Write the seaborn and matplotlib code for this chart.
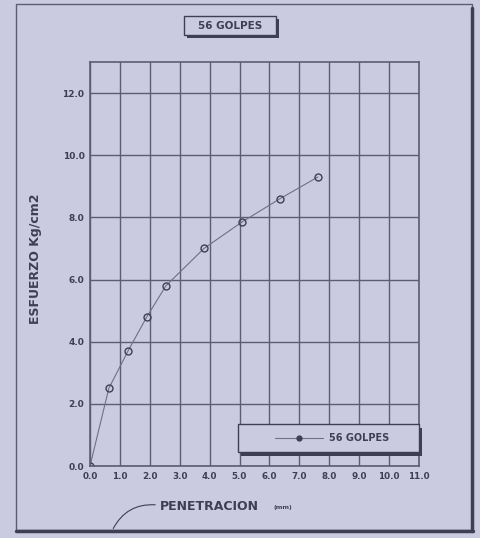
import matplotlib
matplotlib.use("Agg")
import matplotlib.pyplot as plt
import numpy as np
import pandas as pd
import seaborn as sns
from matplotlib.patches import Rectangle, FancyArrowPatch

# CBR test, 56 blows: penetration (mm) vs stress (kg/cm2)
penetracion = [0.0, 0.63, 1.27, 1.90, 2.54, 3.81, 5.08, 6.35, 7.62]
esfuerzo = [0.0, 2.5, 3.7, 4.8, 5.8, 7.0, 7.85, 8.6, 9.3]
serie = "56 GOLPES"
x_ticks = [0.0, 1.0, 2.0, 3.0, 4.0, 5.0, 6.0, 7.0, 8.0, 9.0, 10.0, 11.0]
y_ticks = [0.0, 2.0, 4.0, 6.0, 8.0, 10.0, 12.0]

df = pd.DataFrame({"penetracion": penetracion, "esfuerzo": esfuerzo, "serie": serie})

bg = "#cacbe0"
ink = "#3e3f56"
grid_c = "#5c5d75"

sns.set_style("white", {"axes.facecolor": bg, "figure.facecolor": bg})
plt.rcParams["font.family"] = ["DejaVu Sans"]

fig = plt.figure(figsize=(4.8, 5.38), dpi=100)
ax = fig.add_axes([90 / 480, 1 - 466 / 538, 329 / 480, 404 / 538])

sns.lineplot(data=df, x="penetracion", y="esfuerzo", hue="serie", palette=["#6f7088"],
             marker="o", markersize=5, markerfacecolor="none", markeredgecolor=ink,
             markeredgewidth=1.0, linewidth=0.8, ax=ax)

ax.set_xlim(0, 11)
ax.set_ylim(0, 13)
ax.set_xticks(x_ticks)
ax.set_yticks(y_ticks)
ax.set_xticklabels([f"{t:.1f}" for t in x_ticks], fontsize=6.3, fontweight="bold", color=ink)
ax.set_yticklabels([f"{t:.1f}" for t in y_ticks], fontsize=6.5, fontweight="bold", color=ink)
ax.grid(True, color=grid_c, linewidth=1.0)
ax.tick_params(length=0, pad=4)
for s in ax.spines.values():
    s.set_color(grid_c)
    s.set_linewidth(1.2)

ax.set_xlabel("")
ax.set_ylabel("ESFUERZO Kg/cm2", fontsize=9, fontweight="bold", color=ink, labelpad=0)
ax.yaxis.set_label_coords((42 - 90) / 329, (466 - 259) / 404)

# legend box (drawn by hand, with drop shadow) in the lower right of the grid
ax.add_patch(Rectangle((151 / 329, 10 / 404), 181 / 329, 28 / 404, transform=ax.transAxes,
                       facecolor=ink, edgecolor="none", zorder=4, clip_on=False))
ax.add_patch(Rectangle((148 / 329, 14 / 404), 181 / 329, 28 / 404, transform=ax.transAxes,
                       facecolor=bg, edgecolor=ink, linewidth=1.0, zorder=4.5, clip_on=False))
handles = ax.get_legend_handles_labels()[0]
leg = ax.legend(handles=handles, labels=[serie], loc="center",
                bbox_to_anchor=(242 / 329, 28 / 404), frameon=False,
                fontsize=7, handlelength=5.0, handletextpad=0.6, borderaxespad=0)
leg.set_zorder(6)
for t in leg.get_texts():
    t.set_color(ink)
    t.set_fontweight("bold")
leg_line = leg.get_lines()[0]
leg_line.set_markerfacecolor(ink)
leg_line.set_markersize(3.5)

# title box with shadow
fig.patches.append(Rectangle((187 / 480, 1 - 38 / 538), 92 / 480, 19 / 538,
                             transform=fig.transFigure, facecolor=ink, edgecolor="none"))
fig.patches.append(Rectangle((184 / 480, 1 - 35 / 538), 92 / 480, 19 / 538,
                             transform=fig.transFigure, facecolor=bg, edgecolor=ink, linewidth=1.0))
fig.text(230 / 480, 1 - 26 / 538, serie, ha="center", va="center", fontsize=7.5,
         fontweight="bold", color=ink)

# x axis label with hand-drawn leader curve
fig.text(160 / 480, 1 - 507 / 538, "PENETRACION", ha="left", va="center", fontsize=9,
         fontweight="bold", color=ink)
fig.text(274 / 480, 1 - 508 / 538, "(mm)", ha="left", va="center", fontsize=4.5,
         fontweight="bold", color=ink)
fig.add_artist(FancyArrowPatch(
    (158 / 480, 1 - 505 / 538), (112 / 480, 1 - 531 / 538), transform=fig.transFigure,
    connectionstyle="arc3,rad=0.35", arrowstyle="-", color=ink, linewidth=0.8))

# sheet frame with thick right/bottom edges
fig.patches.append(Rectangle((16 / 480, 1 - 530 / 538), 456 / 480, 526 / 538,
                             transform=fig.transFigure, facecolor="none", edgecolor=grid_c,
                             linewidth=1.0))
fig.add_artist(plt.Line2D([472 / 480, 472 / 480], [1 - 531 / 538, 1 - 8 / 538],
                          transform=fig.transFigure, color=ink, linewidth=2.5))
fig.add_artist(plt.Line2D([16 / 480, 473 / 480], [1 - 531 / 538, 1 - 531 / 538],
                          transform=fig.transFigure, color=ink, linewidth=2.5))

fig.savefig("out.png", dpi=100, facecolor=bg)
